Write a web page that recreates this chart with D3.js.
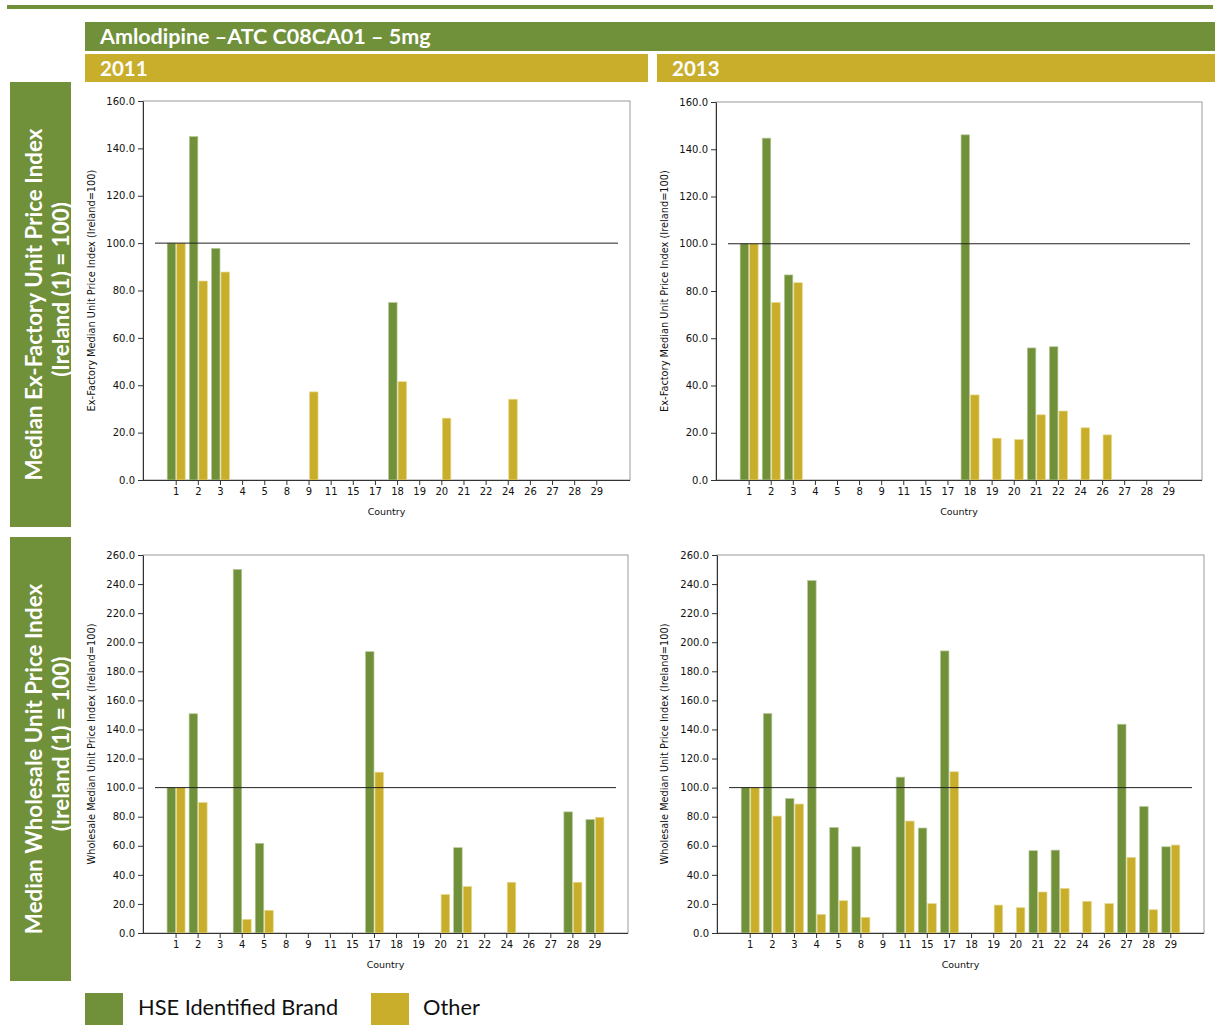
<!DOCTYPE html>
<html><head><meta charset="utf-8">
<script src="https://cdn.jsdelivr.net/npm/d3@7"></script>
<style>
html,body{margin:0;padding:0;background:#fff;}
svg{display:block;}
</style></head>
<body>
<svg id="chart" width="1215" height="1028"></svg>
<script>
// ---------- DATA ----------
const title = "Amlodipine \u2013ATC C08CA01 \u2013 5mg";
const years = ["2011", "2013"];
const rowLabels = [["Median Ex-Factory Unit Price Index", "(Ireland (1) = 100)"],
                   ["Median Wholesale Unit Price Index", "(Ireland (1) = 100)"]];
const seriesNames = ["HSE Identified Brand", "Other"];
const countries = ["1","2","3","4","5","8","9","11","15","17","18","19","20","21","22","24","26","27","28","29"];
const exfTicks = [0,20,40,60,80,100,120,140,160];
const whsTicks = [0,20,40,60,80,100,120,140,160,180,200,220,240,260];
const exfAxisTitle = "Ex-Factory Median Unit Price Index (Ireland=100)";
const whsAxisTitle = "Wholesale Median Unit Price Index (Ireland=100)";

const exf2011Brand = [100,145,97.8,null,null,null,null,null,null,null,74.9,null,null,null,null,null,null,null,null,null];
const exf2011Other = [100,84,87.8,null,null,null,37.2,null,null,null,41.5,null,26.1,null,null,34.1,null,null,null,null];
const exf2013Brand = [100,144.7,86.8,null,null,null,null,null,null,null,146.1,null,null,55.9,56.4,null,null,null,null,null];
const exf2013Other = [100,75.2,83.5,null,null,null,null,null,null,null,36.0,17.7,17.1,27.6,29.2,22.1,19.1,null,null,null];
const whs2011Brand = [100,150.8,null,250.1,61.7,null,null,null,null,193.5,null,null,null,58.7,null,null,null,null,83.3,78.0];
const whs2011Other = [100,89.7,null,9.4,15.6,null,null,null,null,110.6,null,null,26.4,31.9,null,34.9,null,null,34.9,79.6];
const whs2013Brand = [100,151.0,92.5,242.4,72.6,59.3,null,107.2,72.2,194.0,null,null,null,56.6,57.0,null,null,143.6,87.0,59.3];
const whs2013Other = [100,80.4,88.7,12.8,22.2,10.8,null,77.0,20.2,110.9,null,19.2,17.4,28.2,30.7,21.8,20.2,52.0,16.0,60.5];
const referenceValue = 100;

// ---------- STYLE ----------
const GREEN = "#70903a", YELLOW = "#c9ae2c";
const headFont = "Lato, 'Open Sans', sans-serif";
const chartFont = "'DejaVu Sans', Verdana, sans-serif";

const svg = d3.select("#chart");

// top rule
svg.append("rect").attr("x",7).attr("y",5).attr("width",1206).attr("height",4).attr("fill",GREEN);
// title bar
svg.append("rect").attr("x",85).attr("y",22).attr("width",1130).attr("height",29).attr("fill",GREEN);
svg.append("text").attr("x",100).attr("y",44).text(title)
  .attr("fill","#fff").attr("font-family",headFont).attr("font-weight","bold").attr("font-size",21.5);
// year bars
const yearBars = [{x:85,w:563},{x:657,w:558}];
years.forEach((y,i)=>{
  svg.append("rect").attr("x",yearBars[i].x).attr("y",54).attr("width",yearBars[i].w).attr("height",28).attr("fill",YELLOW);
  svg.append("text").attr("x",yearBars[i].x+15).attr("y",76).text(y)
    .attr("fill","#fff").attr("font-family",headFont).attr("font-weight","bold").attr("font-size",20.5);
});
// row label boxes
const rowBoxes = [{y:82,h:445},{y:537,h:444}];
rowLabels.forEach((lines,i)=>{
  const b = rowBoxes[i];
  svg.append("rect").attr("x",10).attr("y",b.y).attr("width",61).attr("height",b.h).attr("fill",GREEN);
  const cy = b.y + b.h/2;
  const t = svg.append("text").attr("transform",`translate(40,${cy}) rotate(-90)`)
    .attr("text-anchor","middle").attr("fill","#fff").attr("font-family",headFont)
    .attr("font-weight","bold").attr("font-size",22.4);
  t.append("tspan").attr("x",0).attr("y",2).text(lines[0]);
  t.append("tspan").attr("x",15).attr("y",29).text(lines[1]);
});

// ---------- PANELS ----------
const panels = [
  {l:143,r:630,t:101,b:480,max:160,ticks:exfTicks,title:exfAxisTitle,brand:exf2011Brand,other:exf2011Other,tx:95},
  {l:716,r:1202,t:102,b:480,max:160,ticks:exfTicks,title:exfAxisTitle,brand:exf2013Brand,other:exf2013Other,tx:668},
  {l:143,r:628,t:555,b:933,max:260,ticks:whsTicks,title:whsAxisTitle,brand:whs2011Brand,other:whs2011Other,tx:95},
  {l:717,r:1204,t:555,b:933,max:260,ticks:whsTicks,title:whsAxisTitle,brand:whs2013Brand,other:whs2013Other,tx:668}
];

panels.forEach(p=>{
  const g = svg.append("g");
  const x = d3.scaleBand().domain(countries).range([p.l,p.r]).paddingInner(0).paddingOuter(1);
  const y = d3.scaleLinear().domain([0,p.max]).range([p.b,p.t]);
  // frame
  g.append("rect").attr("x",p.l).attr("y",p.t).attr("width",p.r-p.l).attr("height",p.b-p.t)
    .attr("fill","none").attr("stroke","#9a9a9a").attr("stroke-width",1);
  const bw = 8.5;
  const rows = countries.map((c,i)=>({c, brand:p.brand[i], other:p.other[i]}));
  // bars
  g.selectAll(".br").data(rows.filter(d=>d.brand!=null)).join("rect")
    .attr("x",d=>x(d.c)+x.bandwidth()/2-bw-0.5).attr("y",d=>y(d.brand))
    .attr("width",bw).attr("height",d=>y(0)-y(d.brand))
    .attr("fill",GREEN).attr("stroke","#b9c99a").attr("stroke-width",0.7);
  g.selectAll(".ot").data(rows.filter(d=>d.other!=null)).join("rect")
    .attr("x",d=>x(d.c)+x.bandwidth()/2+0.5).attr("y",d=>y(d.other))
    .attr("width",bw).attr("height",d=>y(0)-y(d.other))
    .attr("fill",YELLOW).attr("stroke","#e6d890").attr("stroke-width",0.7);
  // reference line
  g.append("line").attr("x1",p.l+12).attr("x2",p.r-12).attr("y1",y(referenceValue)).attr("y2",y(referenceValue))
    .attr("stroke","#222").attr("stroke-width",1);
  // axes
  const ya = g.append("g").attr("transform",`translate(${p.l},0)`)
    .call(d3.axisLeft(y).tickValues(p.ticks).tickFormat(d3.format(".1f")).tickSize(5).tickSizeOuter(0));
  const xa = g.append("g").attr("transform",`translate(0,${p.b})`)
    .call(d3.axisBottom(x).tickSize(5).tickSizeOuter(0));
  [ya,xa].forEach(a=>{
    a.selectAll("text").attr("font-family",chartFont).attr("font-size",10).attr("fill","#111");
    a.selectAll("line,path").attr("stroke","#333");
  });
  xa.select(".domain").attr("d",`M${p.l},0.5H${p.r}`);
  // axis titles
  g.append("text").attr("x",(p.l+p.r)/2).attr("y",p.b+35).attr("text-anchor","middle")
    .attr("font-family",chartFont).attr("font-size",9.5).attr("fill","#111").text("Country");
  g.append("text").attr("transform",`translate(${p.tx},${(p.t+p.b)/2}) rotate(-90)`)
    .attr("text-anchor","middle").attr("font-family",chartFont).attr("font-size",9.8).attr("fill","#111").text(p.title);
});

// ---------- LEGEND ----------
const legend = [{x:85,tx:138,c:GREEN},{x:371,tx:423,c:YELLOW}];
seriesNames.forEach((n,i)=>{
  svg.append("rect").attr("x",legend[i].x).attr("y",993).attr("width",38).attr("height",32).attr("fill",legend[i].c);
  svg.append("text").attr("x",legend[i].tx).attr("y",1015).text(n)
    .attr("font-family",headFont).attr("font-size",21.8).attr("fill","#111");
});
</script>
</body></html>
